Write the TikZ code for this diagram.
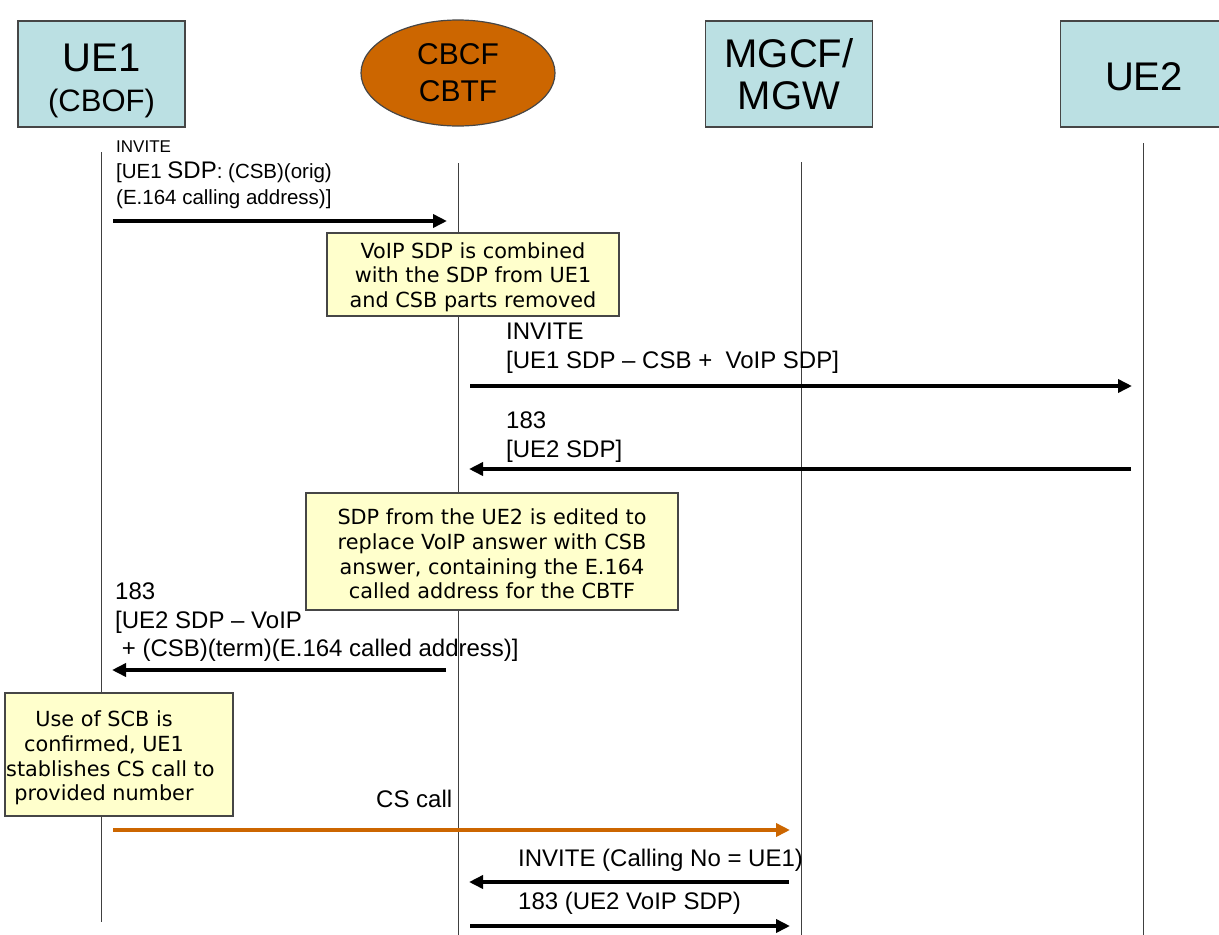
\documentclass[tikz,border=0pt]{standalone}
\usepackage{fontspec}
\setmainfont{Liberation Sans}
\newfontfamily\notefont{DejaVu Sans}
\usetikzlibrary{arrows.meta,shapes.geometric}
\definecolor{entitybg}{RGB}{187,224,227}
\definecolor{burnt}{RGB}{204,102,0}
\definecolor{notebg}{RGB}{255,255,204}
\definecolor{rim}{RGB}{70,70,70}

\begin{document}
\begin{tikzpicture}[x=1pt, y=-1pt,
  entity/.style={draw=rim, line width=1.2pt, fill=entitybg, minimum width=167pt,
    minimum height=106pt, align=center, font=\fontsize{40}{42}\selectfont},
  lifeline/.style={draw=black!75, line width=1pt},
  msg/.style={line width=4pt, -{Triangle[length=14pt,width=13pt]},
    shorten <=12pt, shorten >=11pt},
  note/.style={draw=rim, line width=1.2pt, fill=notebg, align=center,
    font=\notefont\fontsize{20.8}{24.6}\selectfont},
  lbl/.style={anchor=north west, inner sep=0pt, align=left,
    font=\fontsize{24}{28.5}\selectfont}]
  \useasboundingbox (0,0) rectangle (1219,935);
  \clip (0,0) rectangle (1219,935);

  % the four parties
  \node[entity] (ue1) at (101.5,74) {};
  \node[align=center, inner sep=0pt, font=\fontsize{40}{42}\selectfont]
    (ue1name) at ([yshift=-7pt]ue1.center)
    {UE1\\[-2pt]{\fontsize{31}{34}\selectfont (CBOF)}};
  \node[ellipse, draw=rim, line width=1.2pt, fill=burnt, minimum width=194pt,
    minimum height=106pt, align=center, font=\fontsize{30}{37}\selectfont]
    (cbcf) at (458,73) {CBCF\\CBTF};
  \node[entity] (mgcf) at (789,74) {MGCF/\\MGW};
  \node[entity] (ue2) at (1144,74) {};
  \node[inner sep=0pt, font=\fontsize{40}{42}\selectfont]
    (ue2name) at ([yshift=-3pt]ue2.center) {UE2};

  % life lines
  \coordinate (t1) at (101,152);  \coordinate (b1) at (101,922);
  \coordinate (t2) at (458,163);  \coordinate (b2) at (458,935);
  \coordinate (t3) at (801,162);  \coordinate (b3) at (801,935);
  \coordinate (t4) at (1143,143); \coordinate (b4) at (1143,935);
  \foreach \i in {1,...,4}
    \draw[lifeline] (t\i) -- (b\i);

  % message rows
  \coordinate (r1) at (0,221);
  \coordinate (r2) at (0,386);
  \coordinate (r3) at (0,469);
  \coordinate (r4) at (0,670);
  \coordinate (r5) at (0,830);
  \coordinate (r6) at (0,882);
  \coordinate (r7) at (0,926);

  \draw[msg] (t1 |- r1) -- (t2 |- r1);
  \draw[msg] (t2 |- r2) -- (t4 |- r2);
  \draw[msg] (t4 |- r3) -- (t2 |- r3);
  \draw[msg] (t2 |- r4) -- (t1 |- r4);
  \draw[msg, draw=burnt, fill=burnt] (t1 |- r5) -- (t3 |- r5);
  \draw[msg] (t3 |- r6) -- (t2 |- r6);
  \draw[msg] (t2 |- r7) -- (t3 |- r7);

  % labels
  \node[lbl, font=\fontsize{20.5}{26}\selectfont] (m1) at (116,141)
    {{\fontsize{17}{20}\selectfont INVITE}\\{[}UE1 {\fontsize{24}{26}\selectfont SDP}: (CSB)(orig)\\(E.164 calling address)]};
  \node[lbl] (m2) at (506,323) {INVITE\\{[}UE1 SDP – CSB + \ VoIP SDP]};
  \node[lbl] (m3) at (506,412) {183\\{[}UE2 SDP]};
  \node[lbl] (m4) at (115,583)
    {183\\{[}UE2 SDP – VoIP\\{}\ + (CSB)(term)(E.164 called address)]};
  \node[lbl] (m5) at (376,790) {CS call};
  \node[lbl] (m6) at (518,849) {INVITE (Calling No = UE1)};
  \node[lbl] (m7) at (518,892) {183 (UE2 VoIP SDP)};

  % notes
  \node[note, minimum width=292pt, minimum height=83pt] (n1) at (473,274.5)
    {\rule{0pt}{21pt}VoIP SDP is combined\\with the SDP from UE1\\and CSB parts removed};
  \node[note, minimum width=372pt, minimum height=117pt] (n2) at (492,551.5)
    {\rule{0pt}{21pt}SDP from the UE2 is edited to\\replace VoIP answer with CSB\\answer, containing the E.164\\called address for the CBTF};
  \node[note, minimum width=228pt, minimum height=123pt] (n3) at (119,754.5) {};
  \node[align=center, inner sep=0pt, font=\notefont\fontsize{20.8}{24.6}\selectfont]
    (n3t) at (104,758)
    {Use of SCB is\\confirmed, UE1\\\hphantom{e}stablishes CS call to\\provided number};
\end{tikzpicture}
\end{document}
